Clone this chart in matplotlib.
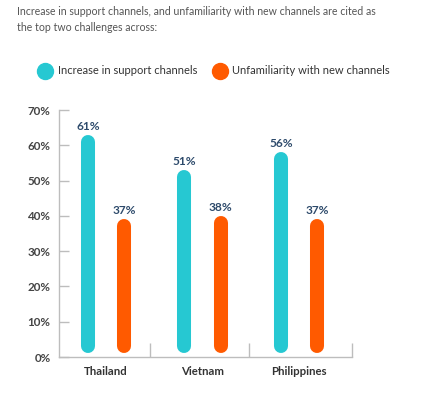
import matplotlib.pyplot as plt
from matplotlib.lines import Line2D

plt.rcParams["font.family"] = ["Lato", "DejaVu Sans"]

countries = ["Thailand", "Vietnam", "Philippines"]
support = [61, 51, 56]
unfamiliar = [37, 38, 37]
series_names = ["Increase in support channels", "Unfamiliarity with new channels"]
yticks = [0, 10, 20, 30, 40, 50, 60, 70]
title = ("Increase in support channels, and unfamiliarity with new channels are cited as\n"
         "the top two challenges across:")

teal = "#26C8D2"
orange = "#FF5A00"
axis_col = "#BDBDBD"
label_col = "#2D4A6B"

W, H = 421, 398
fig = plt.figure(figsize=(W / 100, H / 100), dpi=100)
ax = fig.add_axes([59 / W, 1 - 357 / H, 293 / W, 247 / H])

offset = 0.187
base = 3.2
for i, (a, b) in enumerate(zip(support, unfamiliar)):
    for x, v, c in ((i - offset, a, teal), (i + offset, b, orange)):
        ax.plot([x, x], [base, v], color=c, lw=10.1, solid_capstyle="round")
        ax.text(x, v + 4.4, f"{v}%", ha="center", va="center", fontsize=8.6,
                fontweight="bold", color=label_col)

ax.set_xlim(-0.487, 2.55)
ax.set_ylim(0, 70)
ax.set_yticks(yticks)
ax.set_yticklabels([f"{t}%" for t in yticks])
ax.tick_params(axis="y", direction="in", length=7, width=1, color=axis_col,
               pad=6, labelsize=8.4, labelcolor="#444444")
for lab in ax.get_yticklabels():
    lab.set_fontweight("bold")

# category separators on bottom axis
ax.set_xticks([0.46, 1.48, 2.55])
ax.set_xticklabels([])
ax.tick_params(axis="x", direction="in", length=10, width=1, color=axis_col)
for i, name in enumerate(countries):
    ax.text(i, -4.0, name, ha="center", va="center", fontsize=8.2,
            fontweight="bold", color="#333333", clip_on=False)

for s in ("top", "right"):
    ax.spines[s].set_visible(False)
for s in ("left", "bottom"):
    ax.spines[s].set_color(axis_col)
    ax.spines[s].set_linewidth(1)

fig.text(17 / W, 1 - 6 / H, title, ha="left", va="top", fontsize=7.6,
         color="#555555", linespacing=1.6)

# legend
for cx, tx, c, name in ((45, 58, teal, series_names[0]), (220, 232, orange, series_names[1])):
    fig.add_artist(Line2D([cx / W], [1 - 71 / H], transform=fig.transFigure,
                          marker="o", ms=11.5, color=c, lw=0))
    fig.text(tx / W, 1 - 71 / H, name, ha="left", va="center", fontsize=8,
             color="#333333")

fig.savefig("out.png", dpi=100)
